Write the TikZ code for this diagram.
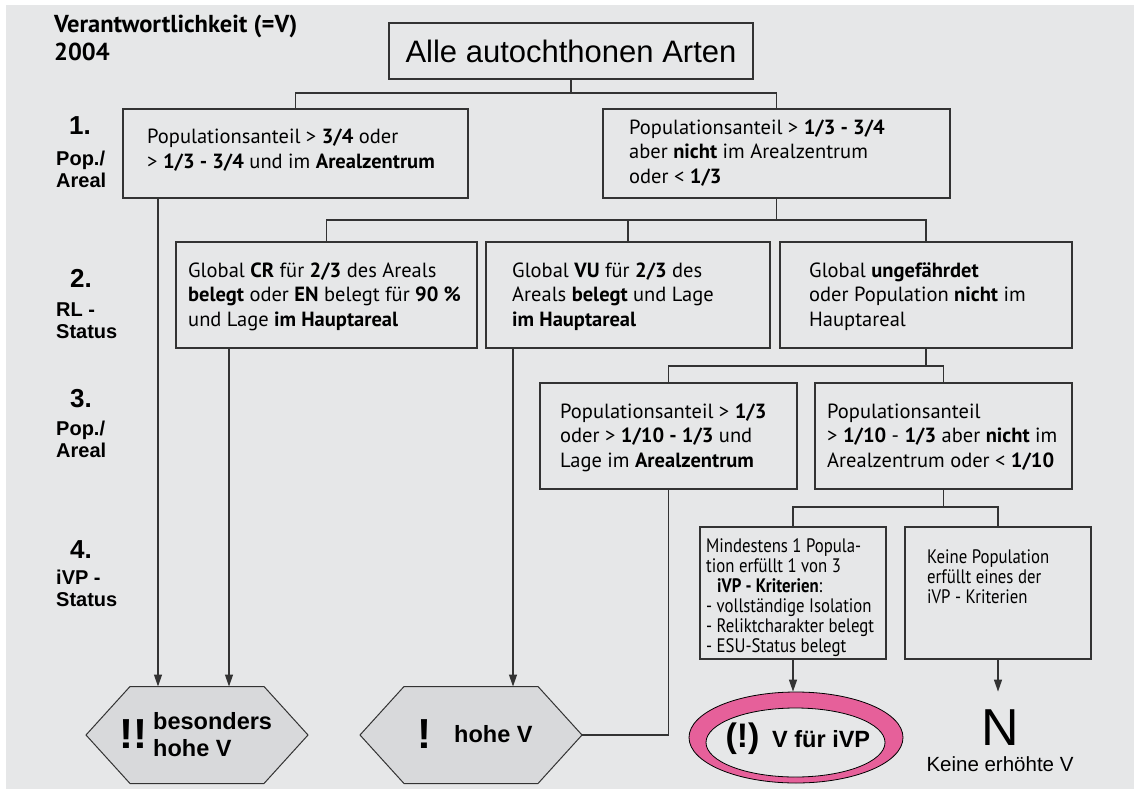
\documentclass[tikz,border=0pt]{standalone}
\usepackage{fontspec}
\setmainfont{PT Sans}
\newfontfamily\hel{Liberation Sans}
\newfontfamily\condf[FakeStretch=0.86]{PT Sans}
\usetikzlibrary{arrows.meta,shapes.geometric,calc}
\definecolor{bg}{HTML}{E6E7E8}
\definecolor{ln}{HTML}{333333}
\definecolor{hexf}{HTML}{D8D9DB}
\definecolor{pinkc}{HTML}{E6609A}
\begin{document}
\begin{tikzpicture}[x=1pt,y=-1pt,
  box/.style={draw=ln, line width=1.3pt, inner sep=0pt},
  txt/.style={inner sep=0pt, align=left, anchor=base west, font=\fontsize{20.5}{24.5}\selectfont},
  ctxt/.style={inner sep=0pt, align=left, anchor=base west, font=\condf\fontsize{19.5}{20}\selectfont},
  conn/.style={draw=ln, line width=1.3pt},
  arr/.style={conn, -{Triangle[length=12pt,width=8pt]}},
  num/.style={inner sep=0pt, anchor=base west, font=\hel\bfseries\fontsize{26}{26}\selectfont},
  lab/.style={inner sep=0pt, anchor=base west, align=left, font=\hel\bfseries\fontsize{20}{22}\selectfont},
  hexs/.style={draw=ln, line width=1pt, fill=hexf},
  hbig/.style={inner sep=0pt, anchor=base, font=\hel\bfseries\fontsize{42}{42}\selectfont},
  hsm/.style={inner sep=0pt, anchor=base west, align=left, font=\hel\bfseries\fontsize{23.5}{27}\selectfont},
]
\useasboundingbox (0,0) rectangle (1134,789);
\fill[bg] (6,5) rectangle (1134,789);

% title (base = last line)
\node[inner sep=0pt, anchor=base west, align=left, font=\bfseries\fontsize{24.5}{28}\selectfont] (title) at (54,61) {Verantwortlichkeit (=V)\\2004};

% left labels
\node[num] (n1) at (69,135) {1.};
\node[lab] (n1l) at (56,187) {Pop./\\Areal};
\node[num] (n2) at (70,287) {2.};
\node[lab] (n2l) at (56,338) {RL -\\Status};
\node[num] (n3) at (70,407) {3.};
\node[lab] (n3l) at (56,457) {Pop./\\Areal};
\node[num] (n4) at (70,558) {4.};
\node[lab] (n4l) at (56,606) {iVP -\\Status};

% top
\node[box, minimum width=364pt, minimum height=56pt, font=\hel\fontsize{31}{31}\selectfont] (top) at (571,51) {Alle autochthonen Arten};

% level 1
\node[box, minimum width=345pt, minimum height=89pt] (l1a) at (295.5,153.5) {};
\node[txt] (l1at) at (147,168) {Populationsanteil > \textbf{3/4} oder\\> \textbf{1/3 - 3/4} und im \textbf{Arealzentrum}};
\node[box, minimum width=347pt, minimum height=89pt] (r1) at (776.5,153.5) {};
\node[txt] (r1t) at (629,183) {Populationsanteil > \textbf{1/3 - 3/4}\\aber \textbf{nicht} im Arealzentrum\\oder < \textbf{1/3}};

% level 2
\node[box, minimum width=301pt, minimum height=106pt] (b1) at (326.5,295) {};
\node[txt] (b1t) at (188,326) {Global \textbf{CR} für \textbf{2/3} des Areals\\\textbf{belegt} oder \textbf{EN} belegt für \textbf{90 \%}\\und Lage \textbf{im Hauptareal}};
\node[box, minimum width=284pt, minimum height=106pt] (b2) at (628,295) {};
\node[txt] (b2t) at (512,326) {Global \textbf{VU} für \textbf{2/3} des\\Areals \textbf{belegt} und Lage\\\textbf{im Hauptareal}};
\node[box, minimum width=292pt, minimum height=106pt] (b3) at (926,295) {};
\node[txt] (b3t) at (809,326) {Global \textbf{ungefährdet}\\oder Population \textbf{nicht} im\\Hauptareal};

% level 3
\node[box, minimum width=257pt, minimum height=106pt] (a3) at (668.5,436) {};
\node[txt] (a3t) at (560,467) {Populationsanteil > \textbf{1/3}\\oder > \textbf{1/10 - 1/3} und\\Lage im \textbf{Arealzentrum}};
\node[box, minimum width=257pt, minimum height=106pt] (b3b) at (943.5,436) {};
\node[txt] (b3bt) at (827,467) {Populationsanteil\\> \textbf{1/10} - \textbf{1/3} aber \textbf{nicht} im\\Arealzentrum oder < \textbf{1/10}};

% level 4
\node[box, minimum width=186pt, minimum height=132pt] (c4) at (793,593) {};
\node[ctxt] (c4t) at (706,652) {Mindestens 1 Popula-\\tion erfüllt 1 von 3\\\hspace*{11pt}\textbf{iVP - Kriterien}:\\- vollständige Isolation\\- Reliktcharakter belegt\\- ESU-Status belegt};
\node[box, minimum width=186pt, minimum height=132pt] (d4) at (998,593) {};
\node[ctxt] (d4t) at (927,603) {Keine Population\\erfüllt eines der\\iVP - Kriterien};

% connectors
\coordinate (j0) at (571,93);
\draw[conn] (top.south) -- (j0);
\draw[conn] (l1a.north) |- (j0) -| (r1.north);
\coordinate (j1) at (776.5,220);
\draw[conn] (r1.south) -- (j1);
\draw[conn] (b1.north) |- (j1) -| (b3.north);
\draw[conn] (b2.north) -- (b2.north |- j1);
\coordinate (j2) at (926,366);
\draw[conn] (b3.south) -- (j2);
\draw[conn] (a3.north) |- (j2) -| (b3b.north);
\coordinate (j3) at (943.5,507);
\draw[conn] (b3b.south) -- (j3);
\draw[conn] (c4.north) |- (j3) -| (d4.north);

% hexagons
\coordinate (h1) at (197,735);
\coordinate (h1top) at (197,686.5);
\draw[hexs] ($(h1)+(-111,0)$) -- ++(44,-48.5) -- ++(134,0) -- ++(44,48.5) -- ++(-44,48.5) -- ++(-134,0) -- cycle;
\node[hbig] (h1ex) at (133.5,748) {!!};
\node[hsm] (h1t) at (153,756) {besonders\\hohe V};

\coordinate (h2) at (471,735);
\coordinate (h2top) at (471,686.5);
\coordinate (h2r) at (582,735);
\draw[hexs] ($(h2)+(-111,0)$) -- ++(44,-48.5) -- ++(134,0) -- ++(44,48.5) -- ++(-44,48.5) -- ++(-134,0) -- cycle;
\node[hbig] (h2ex) at (424,748) {!};
\node[hsm] (h2t) at (454,742) {hohe V};

% ellipse
\node[ellipse, draw=black, line width=0.8pt, fill=pinkc, minimum width=214pt, minimum height=91pt, inner sep=0pt] (ell) at (796,737.5) {};
\node[ellipse, draw=black, line width=0.8pt, fill=bg, minimum width=179pt, minimum height=69pt, inner sep=0pt] (elli) at (795.5,742.5) {};
\node[inner sep=0pt, anchor=base, font=\hel\bfseries\fontsize{34}{34}\selectfont] (ellex) at (742.5,747) {(!)};
\node[inner sep=0pt, anchor=base west, font=\hel\bfseries\fontsize{23.5}{24}\selectfont] (ellt) at (772,747) {V für iVP};

% N
\node[inner sep=0pt, anchor=base, font=\hel\fontsize{52}{52}\selectfont] (nn) at (1000,745) {N};
\node[inner sep=0pt, anchor=base, font=\hel\fontsize{20.5}{21}\selectfont] (nt) at (1000,771) {Keine erhöhte V};

% arrows
\draw[arr] ([xshift=-137.5pt]l1a.south) -- ([xshift=-137.5pt]l1a.south |- h1top);
\draw[arr] ([xshift=-97.5pt]b1.south) -- ([xshift=-97.5pt]b1.south |- h1top);
\draw[arr] ([xshift=-115pt]b2.south) -- ([xshift=-115pt]b2.south |- h2top);
\draw[conn] (a3.south) |- (h2r);
\draw[arr] (c4.south) -- (c4.south |- ell.north);
\draw[arr] (d4.south) -- (d4.south |- ell.north);
\end{tikzpicture}
\end{document}
